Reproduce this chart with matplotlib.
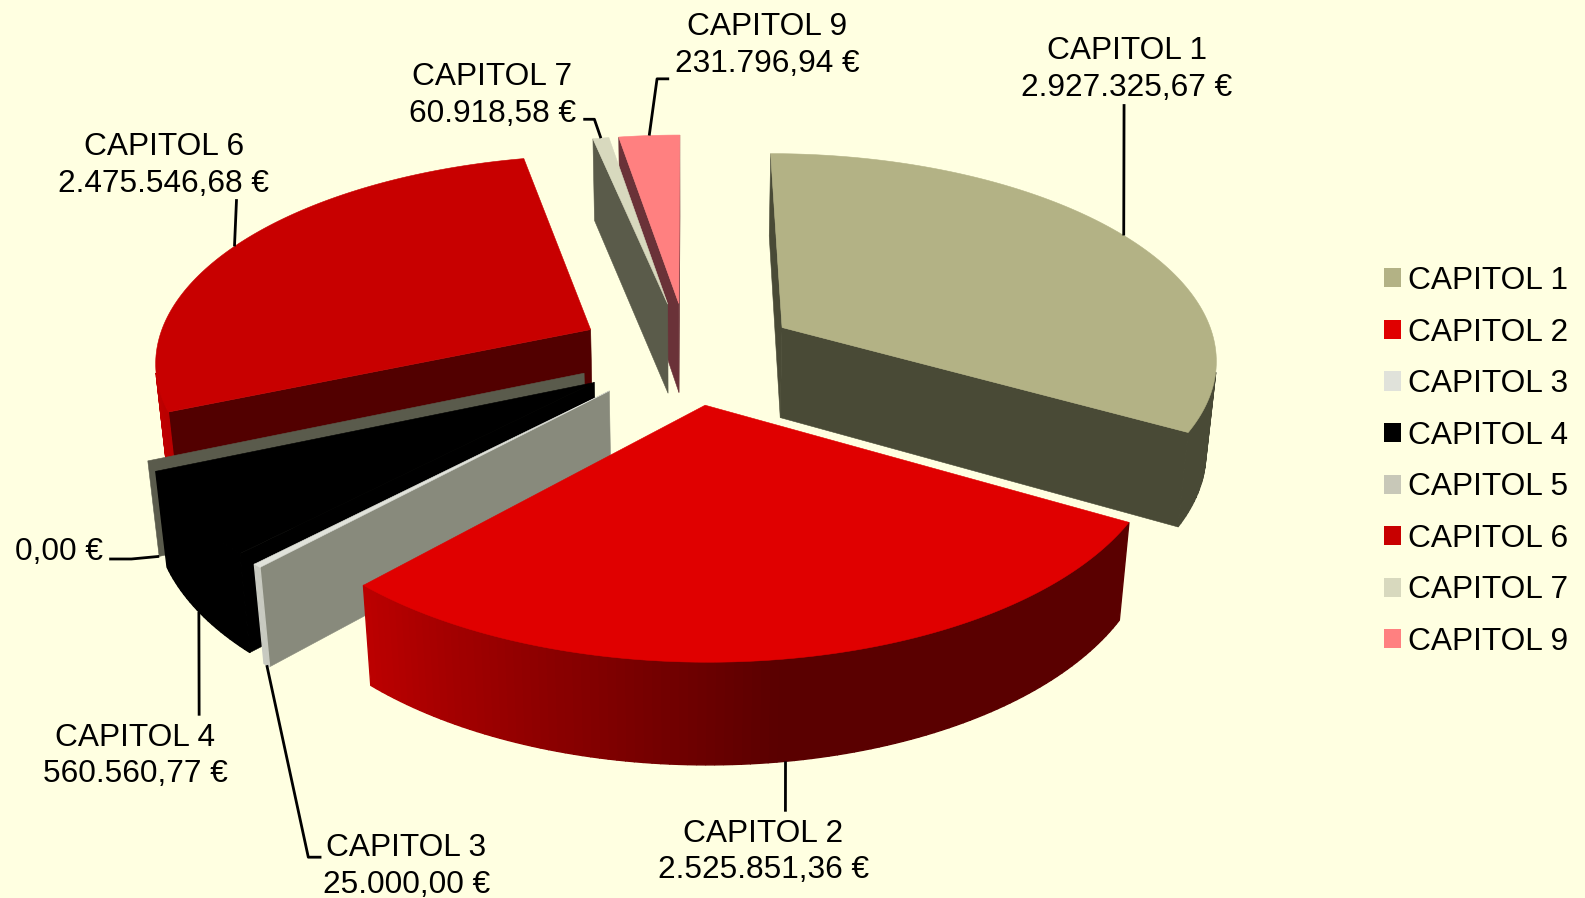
import numpy as np
import matplotlib
matplotlib.use('Agg')
import matplotlib.pyplot as plt
from matplotlib.patches import Polygon, Patch
from matplotlib.colors import to_rgb

## data
names  = ['CAPITOL 1', 'CAPITOL 2', 'CAPITOL 3', 'CAPITOL 4',
          'CAPITOL 5', 'CAPITOL 6', 'CAPITOL 7', 'CAPITOL 9']
values = [2927325.67, 2525851.36, 25000.00, 560560.77,
          0.00, 2475546.68, 60918.58, 231796.94]

## colours: top of slice, flat side of slice
top_cols  = ['#B3B285', '#E00000', '#E0E2DA', '#000000',
             '#C8C8B8', '#C80000', '#D8D9BE', '#FF8080']
side_cols = ['#494A36', '#5A0000', '#888A7C', '#000000',
             '#5A5B4C', '#520000', '#5A5B4A', '#6A3238']
bg_col    = '#FFFFE1'

## projection set-up (pixels of the 1568 wide view, scaled afterwards)
SCALE   = 1585 / 1568.
CX, CY  = 680.3, 349.
RX, RY  = 431., 202.6
HEIGHT  = 92.
PERSP   = 0.14
PERSP_H = 0.02
EXPLODE = [0.25] * 8
EX_X    = 1.02

## draw order: back to front
order = [7, 6, 0, 5, 4, 3, 2, 1]

## label layout
label_xy = [(1115, 67), (755, 841), (402, 855), (134, 746),
            (58, 544), (162, 161.5), (487, 92.5), (759, 43)]
anchor_h = [0, 1, 1, 1, 1, 0, 0, 0]
elbows   = [[(1112, 103)],
            [(777, 803)],
            [(305, 848), (318, 848)],
            [(197, 708)],
            [(130, 553), (108, 553)],
            [(234, 197)],
            [(588, 118), (577, 118)],
            [(650, 78), (662, 78)]]
## where along the slice the leader starts (fraction of the slice sweep)
anchor_f = [0.503, 0.5, 0.5, 0.5, 0.5, 0.49, 0.5, 0.5]


def project(theta, r, h, mid, e):
    '''
    theta clockwise from 12 o'clock (deg), r radius fraction, h 0 top, 1 bottom
    '''
    t = np.radians(theta)
    m = np.radians(mid)
    x = r * np.sin(t) + EX_X * e * np.sin(m)
    z = -r * np.cos(t) - e * np.cos(m)
    w = 1 - PERSP * z + PERSP_H * h
    return (CX + RX * x / w) * SCALE, (CY + (RY * z + HEIGHT * h) / w) * SCALE


def area(pts):
    pts = np.array(pts)
    x, y = pts[:, 0], pts[:, 1]
    return 0.5 * np.sum(x * np.roll(y, -1) - np.roll(x, -1) * y)


def wall_col(i, theta):
    '''outer wall gets lighter round the left side'''
    t = np.interp(theta, [0, 172, 222, 260, 360], [0, 0, 0.72, 0.95, 0.95])
    a = np.array(to_rgb(side_cols[i]))
    b = np.array(to_rgb(top_cols[i]))
    return tuple(a + (b - a) * t)


def patch(ax, pts, col, lw=0.4):
    ax.add_patch(Polygon(pts, closed=True, facecolor=col, edgecolor=col, linewidth=lw))


def draw_slice(ax, i, a0, a1):
    mid = (a0 + a1) / 2.
    e   = EXPLODE[i]
    n   = max(int(a1 - a0), 1) + 1
    th  = np.linspace(a0, a1, n + 1)

    ## flat sides, only when they look at the viewer
    for a, sign in ((a0, 1), (a1, -1)):
        q = [project(mid, 0, 0, mid, e), project(a, 1, 0, mid, e),
             project(a, 1, 1, mid, e), project(mid, 0, 1, mid, e)]
        if sign * area(q) < 0:
            patch(ax, q, side_cols[i])

    ## outer wall, thicker stroke hides the seams between the quads
    for t0, t1 in zip(th[:-1], th[1:]):
        q = [project(t0, 1, 0, mid, e), project(t1, 1, 0, mid, e),
             project(t1, 1, 1, mid, e), project(t0, 1, 1, mid, e)]
        if area(q) < 0:
            patch(ax, q, wall_col(i, (t0 + t1) / 2.), lw=1.0)

    ## top
    if a1 > a0:
        pts = [project(mid, 0, 0, mid, e)] + [project(t, 1, 0, mid, e) for t in th]
        patch(ax, pts, top_cols[i])


def euro(v):
    s = '{:,.2f}'.format(v).replace(',', 'X').replace('.', ',').replace('X', '.')
    return s + ' \u20ac'


plt.rcParams['font.family'] = ['Liberation Sans', 'DejaVu Sans']
fig = plt.figure(figsize=(15.85, 8.98), dpi=100, facecolor=bg_col)
ax  = fig.add_axes([0, 0, 1, 1])
ax.set_xlim(0, 1585)
ax.set_ylim(898, 0)
ax.axis('off')

## slice angles from the values
vals  = np.array(values)
edges = np.concatenate(([0], np.cumsum(vals))) / vals.sum() * 360.

for i in order:
    draw_slice(ax, i, edges[i], edges[i + 1])

## labels and leaders
for i in range(len(names)):
    a0, a1 = edges[i], edges[i + 1]
    mid = (a0 + a1) / 2.
    start = project(a0 + (a1 - a0) * anchor_f[i], 1, anchor_h[i], mid, EXPLODE[i])
    pts = [start] + [(x * SCALE, y * SCALE) for x, y in elbows[i]]
    ax.plot([p[0] for p in pts], [p[1] for p in pts], color='k', lw=2,
            solid_capstyle='butt', zorder=5)
    txt = euro(values[i]) if values[i] == 0 else names[i] + '\n' + euro(values[i])
    x, y = label_xy[i]
    ax.text(x * SCALE, y * SCALE + 2, txt, ha='center', va='center', fontsize=22.8,
            linespacing=1.29, color='k', zorder=6)

## legend
handles = [Patch(facecolor=c, edgecolor='none') for c in top_cols]
ax.legend(handles, names, loc='center left', bbox_to_anchor=(1384 / 1585., 1 - 461.5 / 898.),
          frameon=False, fontsize=22.8, handlelength=0.55, handleheight=0.55,
          handletextpad=0.2, labelspacing=0.68, borderpad=0, borderaxespad=0)

fig.savefig('out.png', dpi=100, facecolor=bg_col)
